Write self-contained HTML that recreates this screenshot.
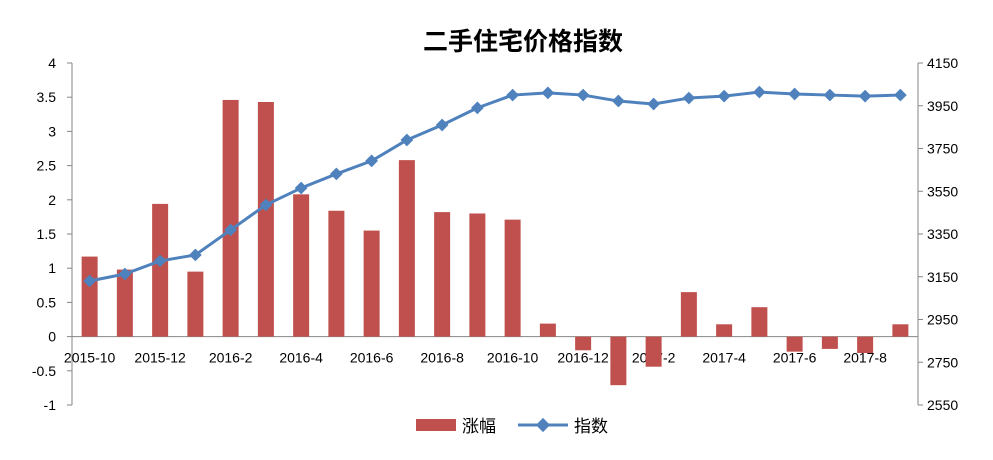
<!DOCTYPE html>
<html><head><meta charset="utf-8"><style>
body{margin:0;background:#fff;}
svg text{font-family:"Liberation Sans","Noto Sans CJK SC",sans-serif;}
</style></head><body>
<svg id="chart" width="993" height="455" xmlns="http://www.w3.org/2000/svg">
<rect width="993" height="455" fill="#fff"/>
<text x="523" y="50" font-size="25" font-weight="bold" text-anchor="middle" fill="#000">二手住宅价格指数</text>
<g id="axes"></g><g id="bars"></g><g id="line"></g>
<g>
<g><rect x="416" y="419" width="40" height="12" fill="#C0504D"/><text x="462" y="432" font-size="17">涨幅</text></g>
<g><line x1="518" y1="425" x2="568" y2="425" stroke="#4F81BD" stroke-width="3"/><rect x="538" y="420" width="10" height="10" fill="#4F81BD" transform="rotate(45 543 425)"/><text x="574" y="432" font-size="17">指数</text></g>
</g>
</svg>
<script>
const categories=["2015-10","2015-11","2015-12","2016-1","2016-2","2016-3","2016-4","2016-5","2016-6","2016-7","2016-8","2016-9","2016-10","2016-11","2016-12","2017-1","2017-2","2017-3","2017-4","2017-5","2017-6","2017-7","2017-8","2017-9"];
const changeValues=[1.17,0.98,1.94,0.95,3.46,3.43,2.08,1.84,1.55,2.58,1.82,1.80,1.71,0.19,-0.20,-0.71,-0.44,0.65,0.18,0.43,-0.22,-0.18,-0.24,0.18];
const indexValues=[3130,3163,3224,3252,3369,3486,3565,3631,3692,3790,3860,3940,4000,4010,4000,3972,3958,3986,3995,4014,4005,4000,3995,4000];
const leftTicks=[4,3.5,3,2.5,2,1.5,1,0.5,0,-0.5,-1];
const rightTicks=[4150,3950,3750,3550,3350,3150,2950,2750,2550];
const NS="http://www.w3.org/2000/svg";
const X0=72,X1=918,YT=63,YB=405;
const step=(X1-X0)/categories.length;
const xc=i=>X0+step*(i+0.5);
const yL=v=>YT+(4-v)*(YB-YT)/5;
const yR=v=>YT+(4150-v)*(YB-YT)/1600;
function mk(tag,attrs,parent,txt){const e=document.createElementNS(NS,tag);for(const k in attrs)e.setAttribute(k,attrs[k]);if(txt!==undefined)e.textContent=txt;parent.appendChild(e);return e;}
const axes=document.getElementById('axes'),bars=document.getElementById('bars'),line=document.getElementById('line');
let a=mk('line',{x1:X0,y1:YT,x2:X0,y2:YB,stroke:'#868686'},axes);


a=mk('line',{x1:X1,y1:YT,x2:X1,y2:YB,stroke:'#868686'},axes);


a=mk('line',{x1:X0,y1:yL(0),x2:X1,y2:yL(0),stroke:'#868686'},axes);


leftTicks.forEach(v=>{mk('line',{x1:X0-5,y1:yL(v),x2:X0,y2:yL(v),stroke:'#868686'},axes);
const t=mk('text',{x:X0-16,y:yL(v)+5,'font-size':14,'text-anchor':'end'},axes,String(v));

});
rightTicks.forEach(v=>{mk('line',{x1:X1,y1:yR(v),x2:X1+5,y2:yR(v),stroke:'#868686'},axes);
const t=mk('text',{x:X1+9,y:yR(v)+5,'font-size':14},axes,String(v));

});
categories.forEach((c,i)=>{if(i%2===0){const t=mk('text',{x:xc(i),y:yL(0)+26,'font-size':14,'text-anchor':'middle'},axes,c);

}});
changeValues.forEach((v,i)=>{const y0=yL(0),y1=yL(v);
const r=mk('rect',{x:xc(i)-8,y:Math.min(y0,y1),width:16,height:Math.abs(y1-y0),fill:'#C0504D'},bars);

});
const pts=indexValues.map((v,i)=>xc(i)+','+yR(v)).join(' ');
const pl=mk('polyline',{points:pts,fill:'none',stroke:'#4F81BD','stroke-width':3,'stroke-linejoin':'round'},line);


indexValues.forEach((v,i)=>{const x=xc(i),y=yR(v);
const m=mk('rect',{x:x-4.5,y:y-4.5,width:9,height:9,fill:'#4F81BD',transform:`rotate(45 ${x} ${y})`},line);

});
</script>
</body></html>
